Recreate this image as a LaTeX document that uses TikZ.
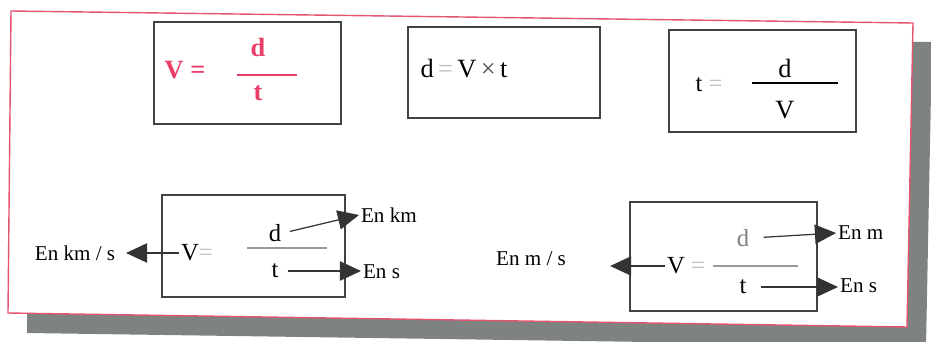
\documentclass[tikz,border=0pt]{standalone}
\usepackage{fontspec}
\setmainfont{Liberation Serif}
\usetikzlibrary{arrows.meta, positioning}

\definecolor{framered}{RGB}{226,84,112}
\definecolor{formred}{RGB}{232,62,104}
\definecolor{shadowgray}{RGB}{126,131,129}
\definecolor{boxgray}{RGB}{66,66,66}

\tikzset{
  formbox/.style={draw=boxgray, line width=1.1pt},
  unitarrow/.style={-{Triangle[length=12pt,width=11pt]}, line width=0.7pt, draw=black!80},
  big/.style={font=\fontsize{15}{15}\selectfont, inner sep=1pt},
  mid/.style={font=\fontsize{14}{14}\selectfont, inner sep=1pt},
  unit/.style={font=\fontsize{12}{12}\selectfont, inner sep=1pt},
}

\begin{document}
\begin{tikzpicture}[x=0.2mm, y=-0.2mm]
\clip (0,0) rectangle (931,341);
% frame with its shadow
\fill[shadowgray] (30,30) -- (932,42) -- (926,346) -- (27,333) -- cycle;
\fill[white] (11,11) -- (913,23) -- (907,327) -- (8,313) -- cycle;
\draw[framered, line width=0.8pt] (11,11) -- (913,23) -- (907,327) -- (8,313) -- cycle;

% top row: the three formulas
\draw[formbox] (154,22) rectangle (341,124);
\node[big, text=formred, font=\fontsize{15}{15}\selectfont\bfseries] (v1) at (185,70) {V =};
\node[big, text=formred, font=\fontsize{15}{15}\selectfont\bfseries] (d1) at (258,47) {d};
\node[big, text=formred, font=\fontsize{15}{15}\selectfont\bfseries] (t1) at (258,93) {t};
\draw[formred, line width=1.5pt] (237,75) -- (297,75);

\draw[formbox] (408,27) rectangle (600,118);
\node[big] (dvt) at (464,69) {d\,{\color{gray!50}=}\,V\,{\color{black!70}×}\,t};

\draw[formbox] (669,30) rectangle (856,132);
\node[mid] (t3) at (709,85) {t {\color{gray!50}=}};
\node[big] (d3) at (785,68) {d};
\node[big] (v3) at (785,110) {V};
\draw[line width=1pt] (752,83) -- (838,83);

% bottom row: the units
\draw[formbox] (162,195) rectangle (345,297);
\node[mid] (v4) at (197,253) {V{\color{gray!50}=}};
\node[mid] (d4) at (275,233) {d};
\node[mid] (t4) at (275,271) {t};
\draw[gray!80, line width=1pt] (247,248) -- (327,248);
\node[unit, anchor=west] (km) at (359,215) {En km};
\node[unit, anchor=west] (s4) at (361,272) {En s};
\node[unit] (kms) at (75,253) {En km / s};
\draw[unitarrow, shorten <=4pt] (d4.east) -- (km.west);
\draw[unitarrow, shorten <=4pt] (t4.east) -- (t4.east -| s4.west);
\draw[unitarrow, shorten >=5pt] (v4.west) -- (v4.west -| kms.east);

\draw[formbox] (630,202) rectangle (817,311);
\node[mid] (v5) at (686,266) {V {\color{gray!50}=}};
\node[mid, text=gray] (d5) at (743,238) {d};
\node[mid] (t5) at (743,287) {t};
\draw[gray!80, line width=1pt] (713,266) -- (798,266);
\node[unit, anchor=west] (m5) at (836,233) {En m};
\node[unit, anchor=west] (s5) at (838,286) {En s};
\node[unit] (ms) at (531,259) {En m / s};
\draw[unitarrow, shorten <=7pt] (d5.east) -- (m5.west);
\draw[unitarrow, shorten <=7pt] (t5.east) -- (t5.east -| s5.west);
\draw[unitarrow, shorten >=24pt] (v5.west) -- (v5.west -| ms.east);
\end{tikzpicture}
\end{document}
